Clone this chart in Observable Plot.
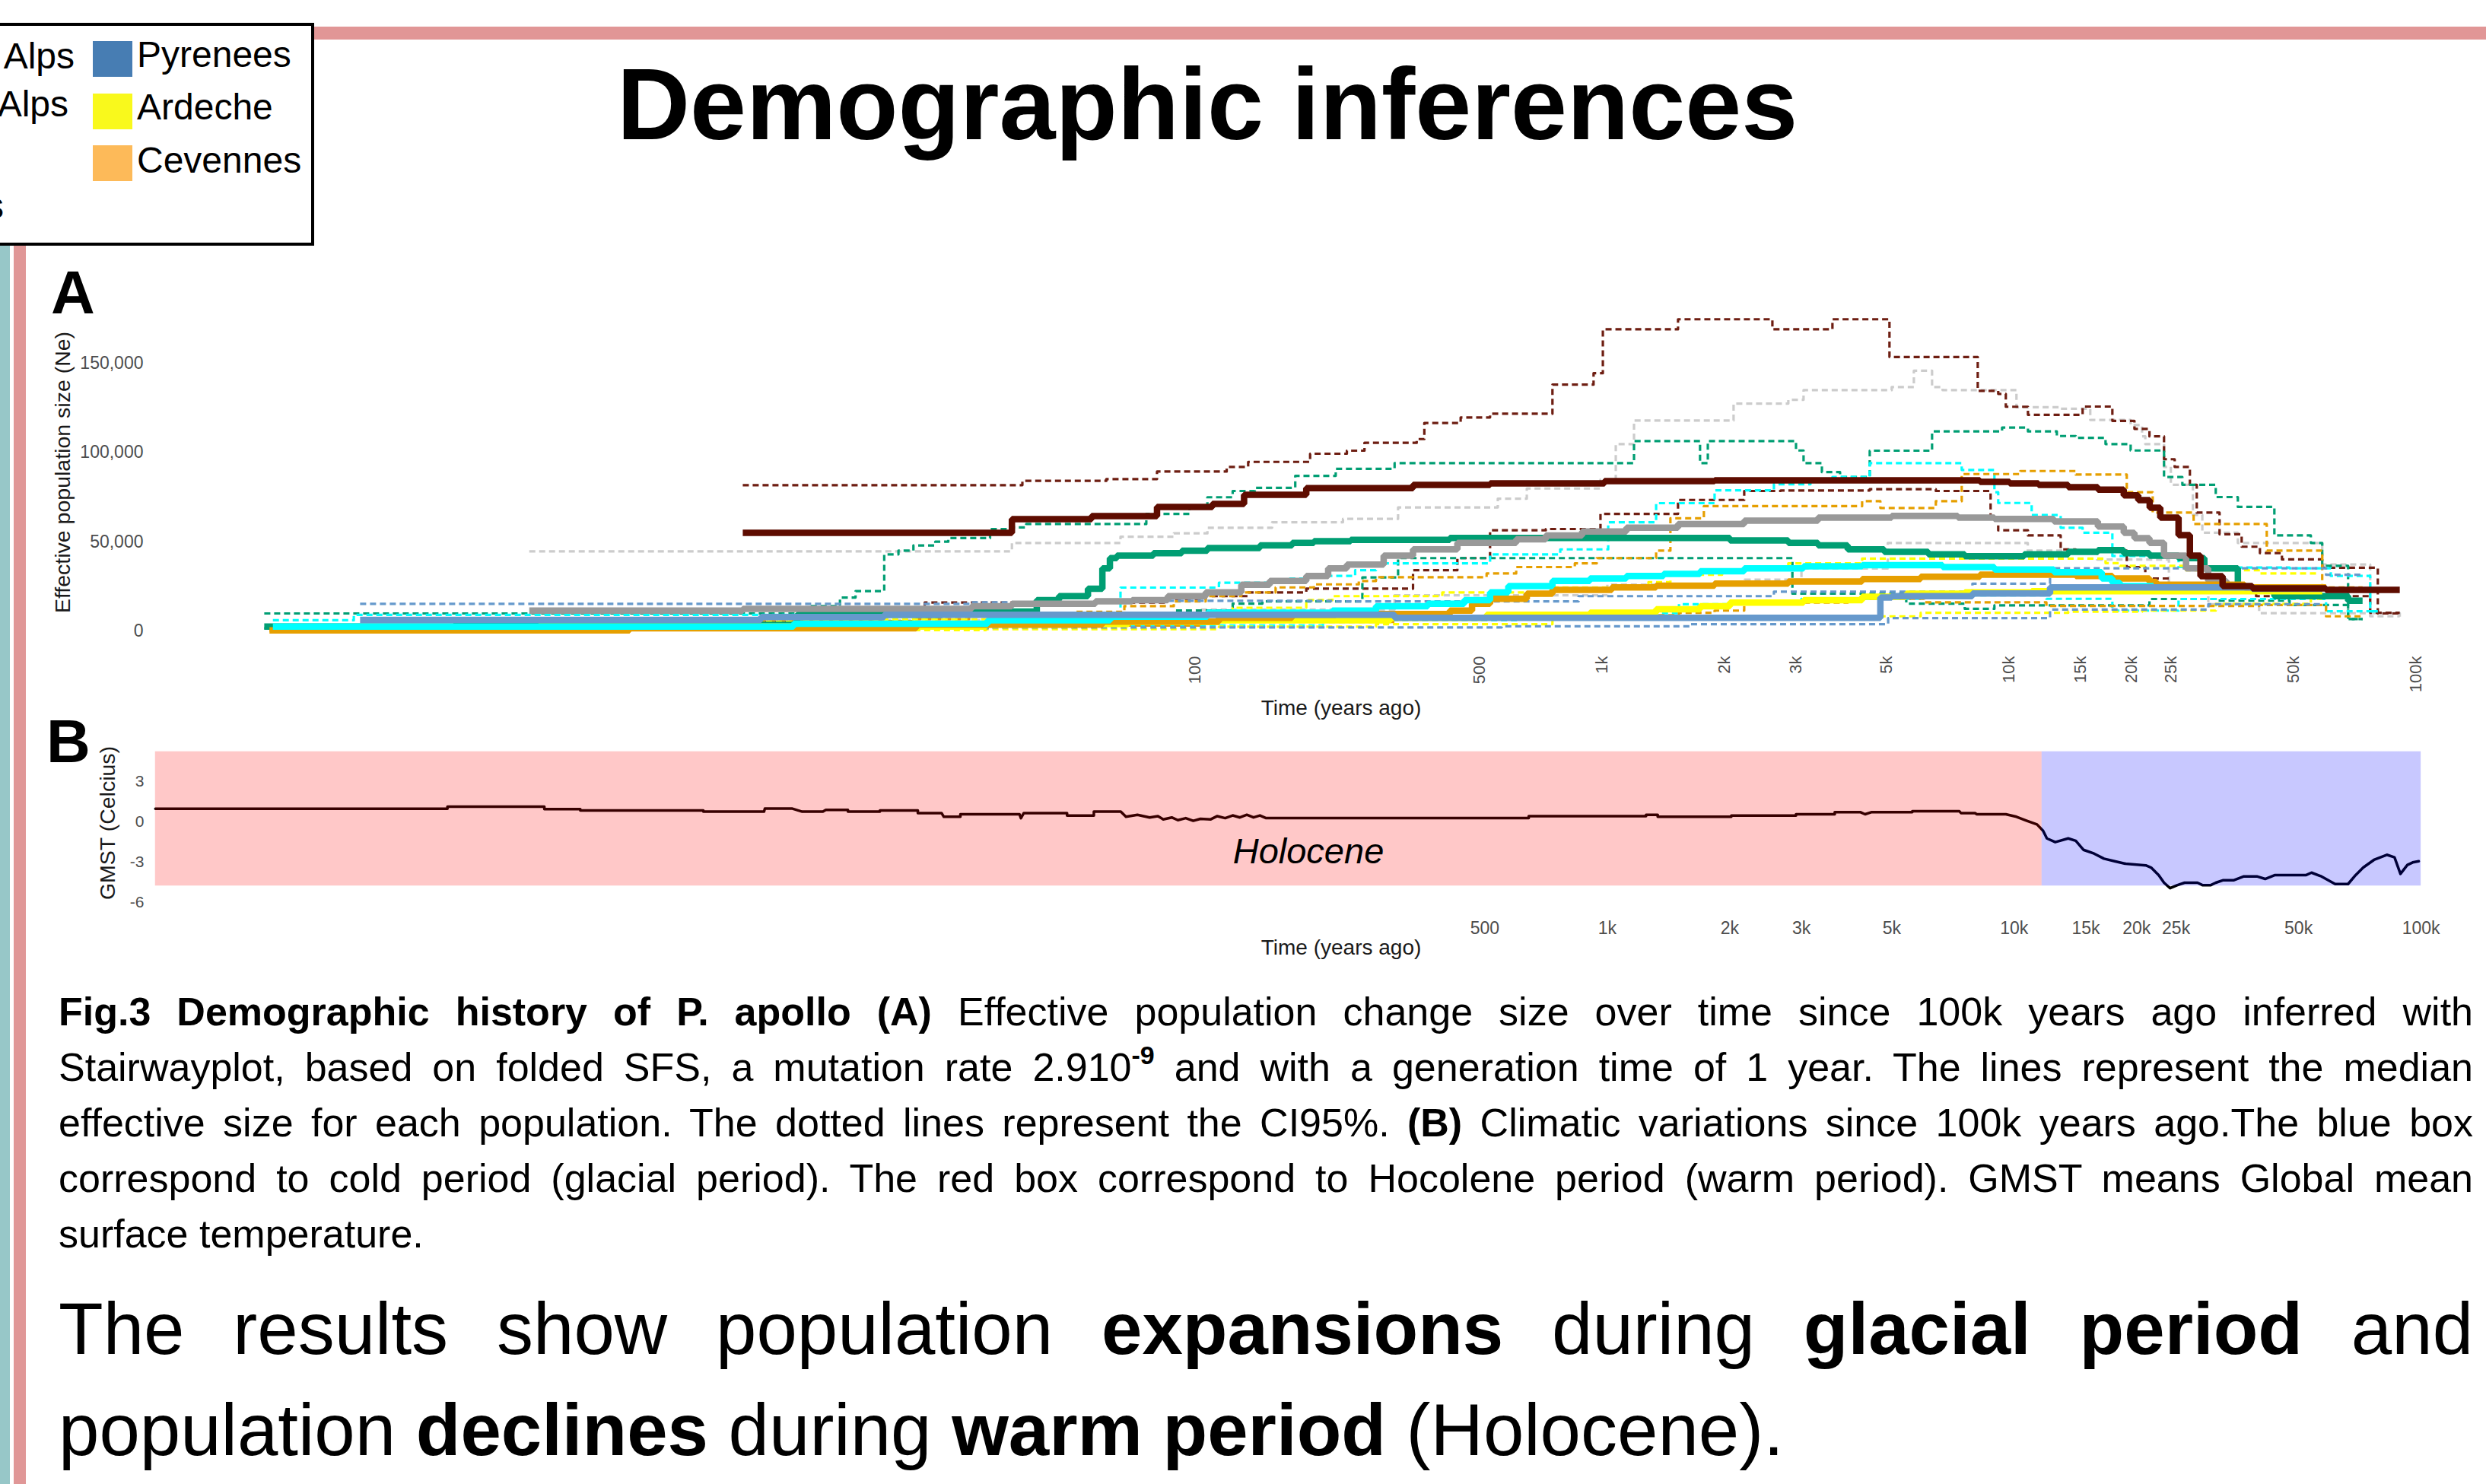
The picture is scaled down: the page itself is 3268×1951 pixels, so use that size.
<!DOCTYPE html>
<html><head><meta charset="utf-8">
<script src="https://cdn.jsdelivr.net/npm/d3@7"></script>
<script src="https://cdn.jsdelivr.net/npm/@observablehq/plot@0.6"></script>
<style>
html,body{margin:0;padding:0;background:#fff;}
#page{position:relative;width:3268px;height:1951px;overflow:hidden;font-family:"Liberation Sans",Arial,sans-serif;color:#000;}
.blk{position:absolute;left:77px;width:3174px;}
.cap{font-size:52px;line-height:73px;}
.res{font-size:96px;line-height:133px;}
.jl{text-align:justify;text-align-last:justify;}
sup{font-size:34px;font-weight:bold;vertical-align:baseline;position:relative;top:-0.62em;line-height:0;}
</style></head>
<body><div id="page"></div>
<script>
// ---------- DATA ----------
// Panel A: stairway plot, [time (years ago), Ne]
const maroonMed = [[7.5,55000],[34.4,62600],[54,64300],[78.2,69500],[107,71200],[128,76300],[182,80000],[333,81800],[515,82700],[984,84000],[1835,84400],[8236,83500],[9745,82700],[11470,81800],[13580,80500],[16060,79200],[18590,76000],[20180,73300],[21530,69000],[22860,63500],[25350,53700],[27030,42200],[28700,30700],[32520,25100],[38480,23900],[58410,23000],[88650,23000]];
const maroonHi = [[7.5,81700],[36.5,84100],[58.7,85100],[78.2,89300],[116,91900],[131,94700],[186,99300],[229,101000],[253,105400],[340,107500],[355,116500],[436,119600],[515,121700],[733,138000],[925,144400],[975,169000],[1492,174600],[2545,169000],[3575,174600],[4937,153500],[8136,134500],[9136,132800],[9537,125600],[10810,121100],[14730,125700],[17430,117700],[19750,113200],[21500,109000],[23350,96200],[24800,91900],[27030,81900],[28100,66300],[31970,54200],[36230,47200],[40180,43600],[45510,40100],[57160,35400],[78300,9800],[88650,9800]];
const maroonLo = [[7.5,5200],[15.4,11000],[16.7,13100],[21,15900],[83,18000],[103,19500],[131,21600],[182,23700],[333,34000],[428,40800],[515,56400],[706,57100],[962,65600],[1492,73400],[2170,78400],[2667,78700],[4415,79400],[6418,78400],[8750,62800],[9136,56400],[10810,53500],[13010,45700],[14170,45000],[18910,35800],[21000,29400],[24000,25000],[30000,22000],[39320,19500],[74990,10200],[88650,10200]];

const greenMed = [[0.5,2400],[1.47,3400],[9.8,3400],[10.2,9100],[23.2,10900],[39.6,17300],[44.9,19500],[52.9,23700],[57.4,35100],[59.9,40800],[62.3,42200],[76.6,43600],[90,45000],[104,46400],[140,47900],[168,49300],[190,50300],[234,51000],[410,52100],[2001,50700],[2785,49300],[3296,47900],[3898,45700],[4791,44300],[6150,42900],[7561,41900],[10580,42900],[13580,44300],[16060,45300],[18590,43600],[21500,42200],[25350,40800],[29330,35100],[35460,24400],[43600,19500],[66180,16900],[71830,16900]];
const greenHi = [[0.5,9800],[11,13900],[13,18700],[14.2,22300],[16.7,42900],[18.1,45000],[19.7,47900],[22.3,50000],[24,52000],[30.4,57100],[33.7,58000],[37.3,59900],[73.6,65600],[94,69200],[104,74900],[120,78400],[136,80200],[171,86900],[215,90800],[300,94000],[1163,106400],[1690,94000],[1766,106400],[2909,101100],[3036,94000],[3368,89000],[3733,86200],[4415,101000],[6283,111800],[9337,113900],[10810,111800],[12730,109200],[14170,108200],[16770,104700],[19330,101100],[23350,86200],[25900,81900],[31290,75000],[35460,69500],[43600,53500],[53600,49300],[57160,36500],[66180,6700],[71830,6700]];
const greenLo = [[0.5,1500],[9.8,4000],[38,6700],[87,11500],[120,15300],[142,16600],[250,30000],[306,40800],[2850,20900],[5429,15300],[7561,12400],[8941,14300],[21500,17900],[31290,17000],[47520,14500],[66180,6700],[71830,6700]];

const grayMed = [[2.24,11400],[7.5,12400],[27.4,13800],[34.4,15200],[55.2,16600],[67.9,17300],[83.1,19500],[103,21600],[126,25900],[148,28000],[182,30800],[206,35100],[229,37200],[282,42200],[333,45700],[428,49300],[597,51400],[706,53500],[867,55700],[1114,57800],[1492,59900],[2170,61800],[3296,63500],[5000,64500],[7272,63500],[8941,62800],[12520,61400],[16060,58500],[18590,55000],[19750,52000],[21500,49300],[23350,42200],[26450,35100],[29970,28000],[33230,24400],[36000,24400]];
const grayHi = [[2.24,44600],[34.4,49300],[63.6,52800],[86,54700],[104,57800],[150,60900],[224,62800],[306,69200],[538,74100],[634,79800],[962,84800],[1049,104700],[1163,117900],[2043,127400],[2785,129500],[3036,134900],[5000,136600],[5668,145800],[6283,136600],[6670,134900],[10130,125300],[13010,124500],[15380,118200],[19330,115300],[20620,109000],[21000,104700],[23350,91900],[24270,81900],[27500,65000],[29000,55000],[35460,49300],[57160,37200],[74990,8200],[88650,8200]];
const grayLo = [[2.24,6000],[30,8000],[100,12000],[300,20000],[1000,26000],[2176,28700],[3000,35000],[4890,49300],[10800,45000],[16000,40000],[24000,25000],[30000,15000],[40000,10000],[88650,8000]];

const cyanMed = [[0.525,2500],[10,4000],[30,6000],[60,8000],[104,10200],[211,11400],[270,13900],[362,15200],[445,17300],[515,21600],[571,25100],[733,28000],[906,29400],[1114,30800],[1375,32000],[1690,33400],[2170,35100],[3036,36200],[4229,36900],[6670,35800],[8941,34400],[12520,32900],[16410,29400],[17430,27000],[18200,25100],[22000,25100]];
const cyanHi = [[0.525,6000],[0.83,9000],[63.6,24300],[111,27000],[164,29400],[182,30800],[240,34000],[270,37900],[515,42900],[766,45700],[1005,60900],[1318,71600],[1835,78800],[2567,82200],[3157,84000],[3575,86200],[4415,94000],[7431,90200],[8941,77700],[9136,71700],[11040,64900],[13010,57800],[14730,55000],[17430,42000],[25350,35800],[31290,35500],[47520,35100],[60000,30800],[75000,11000],[78300,11000]];
const cyanLo = [[0.525,1500],[30,3000],[200,6000],[600,10000],[1500,15000],[3000,18000],[6000,20000],[12000,18000],[17430,11400],[25350,17900],[58410,11000],[78300,11000]];

const orangeMed = [[0.515,300],[3.95,1500],[20,3500],[57.4,5200],[111,7400],[168,9100],[215,9500],[410,11400],[465,15200],[515,18000],[634,20900],[733,23000],[1026,24400],[1318,25400],[1835,26500],[2785,27700],[4229,29100],[5891,30400],[8236,31500],[14170,30800],[17430,29400],[21500,27500],[22370,25900],[36850,24400],[58410,24400]];
const orangeHi = [[0.515,3000],[1.53,5200],[2.31,5500],[19.7,6700],[27,8000],[48.7,10700],[65,13900],[86,16600],[103,19500],[126,21600],[153,24400],[190,26100],[245,28000],[270,30100],[505,32200],[597,35800],[832,37900],[942,40800],[1318,45000],[1429,63100],[1727,69900],[4229,72700],[4689,68900],[6418,72700],[7431,87900],[10350,89600],[14170,87600],[18910,77700],[21900,66300],[27610,59900],[41760,45000],[57160,24400],[71830,24400]];
const orangeLo = [[0.515,200],[1.58,1000],[2.31,1500],[20,3000],[100,5000],[300,7000],[597,8800],[1500,10200],[1835,11400],[2170,15200],[2567,15900],[3898,18000],[6000,16000],[12000,14000],[40000,14500],[58410,8200],[71830,8200]];

const yellowMed = [[2.36,2400],[29.7,3500],[48.7,3800],[66.4,5000],[111,6000],[293,7400],[505,9100],[906,10200],[1318,12100],[1690,13900],[2001,15900],[3036,17300],[4229,19200],[5429,20900],[7561,21600],[11040,22300],[57160,22300]];
const yellowHi = [[2.36,5200],[10.2,6500],[30,8000],[66,10000],[120,13000],[182,17300],[211,19500],[393,21600],[733,24400],[1262,27300],[1429,31500],[1915,34400],[2785,37900],[4229,40500],[16770,38000],[18200,36500],[26450,34000],[40180,32200],[56000,32200]];
const yellowLo = [[2.36,500],[29.7,1000],[111,2400],[270,3800],[733,6700],[2567,8200],[5891,10200],[13580,10800],[20620,11400],[31290,15200],[53600,18000],[57160,18000]];

const blueMed = [[0.86,6200],[8.31,7800],[16.7,9100],[300,7400],[4689,18700],[5000,19500],[7894,21000],[12250,24400],[38480,23700],[57160,23700]];
const blueHi = [[0.86,15200],[27.4,16000],[57.4,16900],[211,16600],[850,19500],[2567,22000],[7894,26500],[12250,35100],[58410,31500],[71830,31500]];
const blueLo = [[0.86,1500],[30,2000],[550,2600],[1600,3800],[4900,7200],[12250,12000],[30000,15000],[57160,15000]];

// Panel B: GMST, [time (years ago), degrees C]
const gmst = [[0.27,0.95],[1.41,0.95],[1.41,1.10],[2.44,1.10],[2.44,0.92],[2.99,0.92],[2.99,0.82],[6.0,0.82],[6.0,0.73],[8.46,0.73],[8.5,0.97],[9.9,0.97],[10.5,0.73],[11.8,0.73],[12.0,0.86],[13.6,0.86],[13.6,0.73],[16.3,0.73],[16.3,0.82],[20.2,0.82],[20.2,0.63],[23.1,0.63],[23.4,0.35],[25.7,0.35],[25.7,0.54],[35.9,0.54],[36.2,0.25],[36.8,0.63],[47,0.63],[47,0.44],[54.7,0.44],[54.7,0.73],[63.7,0.73],[65.6,0.35],[70,0.5],[75,0.3],[78.6,0.4],[81,0.16],[85,0.3],[88,0.1],[92,0.25],[96,0.05],[100,0.2],[106,0.16],[110,0.4],[115,0.25],[120,0.45],[125,0.3],[130,0.5],[135,0.3],[140,0.45],[145,0.25],[148,0.25],[641,0.25],[641,0.39],[1245,0.39],[1245,0.50],[1330,0.50],[1330,0.35],[2017,0.35],[2017,0.44],[2909,0.44],[2909,0.54],[3622,0.54],[3622,0.69],[4194,0.69],[4300,0.54],[4452,0.69],[5618,0.69],[5618,0.76],[7334,0.76],[7400,0.63],[8000,0.63],[8097,0.54],[9537,0.54],[10130,0.35],[10713,0.07],[11379,-0.22],[11777,-0.69],[12034,-1.26],[12616,-1.54],[13575,-1.26],[14170,-1.44],[14795,-2.11],[15716,-2.39],[16620,-2.77],[17650,-2.96],[18746,-3.14],[21060,-3.27],[21700,-3.43],[22650,-3.99],[23350,-4.56],[24170,-4.97],[25120,-4.75],[26230,-4.56],[28220,-4.56],[29080,-4.75],[30360,-4.75],[31290,-4.56],[32660,-4.37],[34690,-4.37],[36690,-4.09],[39480,-4.09],[41380,-4.28],[43770,-3.99],[52220,-3.99],[53800,-3.81],[56900,-4.09],[61500,-4.66],[66150,-4.66],[69070,-3.99],[72100,-3.43],[76600,-2.86],[82400,-2.48],[86050,-2.67],[89000,-3.90],[92550,-3.24],[95370,-3.05],[98700,-2.96]];
const holocene = {start: 0.27, end: 11700, lo: -4.8, hi: 5.2};
const glacial = {start: 11700, end: 100000, lo: -4.8, hi: 5.2};

// Ticks
const xTicksA = [100,500,1000,2000,3000,5000,10000,15000,20000,25000,50000,100000];
const xTickLabelsA = ["100","500","1k","2k","3k","5k","10k","15k","20k","25k","50k","100k"];
const xTicksB = [500,1000,2000,3000,5000,10000,15000,20000,25000,50000,100000];
const xTickLabelsB = ["500","1k","2k","3k","5k","10k","15k","20k","25k","50k","100k"];
const yTicksA = [0,50000,100000,150000];
const yTickLabelsA = ["0","50,000","100,000","150,000"];
const yTicksB = [-6,-3,0,3];
const yTickLabelsB = ["-6","-3","0","3"];

// Legend (visible part)
const legendNames = ["Pyrenees","Ardeche","Cevennes"];
const legendCutNames = ["Alps","Alps","s"];

// ---------- STYLES ----------
const FONT = "Liberation Sans, Arial, sans-serif";
const C = {maroon:"#5E0C00", maroonCI:"#6E1E12", green:"#009E73", gray:"#999999", grayCI:"#CCCCCC",
  cyan:"#00FFFF", orange:"#E69F00", yellow:"#FFFF00", blue:"#6699CC"};
const legendColors = ["#477DB3","#F9F91C","#FDBA59"];
const TICK = "#4d4d4d";
const xDomain = [0.26, 108000];

const ci = (data, color) => Plot.line(data, {x: d => d[0], y: d => d[1], curve: "step-after", stroke: color, strokeWidth: 3.2, strokeDasharray: "8,5", strokeLinecap: "butt"});
const med = (data, color) => Plot.line(data, {x: d => d[0], y: d => d[1], curve: "step-after", stroke: color, strokeWidth: 8.5, strokeLinecap: "butt", strokeLinejoin: "miter"});

const page = document.getElementById("page");

// ---------- PANEL A ----------
const plotA = Plot.plot({
  width: 3268, height: 640,
  marginLeft: 195, marginRight: 68, marginTop: 0, marginBottom: 108,
  style: {background: "transparent", fontFamily: FONT, overflow: "visible"},
  x: {type: "log", domain: xDomain, axis: null},
  y: {domain: [0, 150000], range: [499, 147], axis: null},
  marks: [
    ci(grayLo, C.grayCI), ci(grayHi, C.grayCI),
    ci(maroonLo, C.maroonCI), ci(maroonHi, C.maroonCI),
    ci(greenLo, C.green), ci(greenHi, C.green),
    ci(cyanLo, C.cyan), ci(cyanHi, C.cyan),
    ci(orangeLo, C.orange), ci(orangeHi, C.orange),
    ci(yellowLo, C.yellow), ci(yellowHi, C.yellow),
    ci(blueLo, C.blue), ci(blueHi, C.blue),
    med(greenMed, C.green), med(grayMed, C.gray), med(yellowMed, C.yellow),
    med(orangeMed, C.orange), med(cyanMed, C.cyan), med(blueMed, C.blue), med(maroonMed, C.maroon),
    Plot.text(yTicksA, {y: d => d, text: (d, i) => yTickLabelsA[i], frameAnchor: "left", textAnchor: "end", dx: -7, fontSize: 23, fill: TICK}),
    Plot.text(xTicksA, {x: d => d, text: (d, i) => xTickLabelsA[i], frameAnchor: "bottom", rotate: -90, textAnchor: "end", fontSize: 22, fill: TICK})
  ]
});
plotA.style.position = "absolute"; plotA.style.left = "0px"; plotA.style.top = "330px";
page.appendChild(plotA);

// ---------- PANEL B ----------
const plotB = Plot.plot({
  width: 3268, height: 300,
  marginLeft: 195, marginRight: 68, marginTop: 0, marginBottom: 33,
  style: {background: "transparent", fontFamily: FONT, overflow: "visible"},
  x: {type: "log", domain: xDomain, axis: null},
  y: {domain: [-6, 3], range: [225.4, 66.55], axis: null},
  marks: [
    Plot.line(gmst, {x: d => d[0], y: d => d[1], stroke: "#000", strokeWidth: 3.5}),
    Plot.rect([holocene], {x1: "start", x2: "end", y1: "lo", y2: "hi", fill: "#ff0000", fillOpacity: 0.215}),
    Plot.rect([glacial], {x1: "start", x2: "end", y1: "lo", y2: "hi", fill: "#0000ff", fillOpacity: 0.215}),
    Plot.text(yTicksB, {y: d => d, text: (d, i) => yTickLabelsB[i], frameAnchor: "left", textAnchor: "end", dx: -6, fontSize: 21, fill: TICK}),
    Plot.text(xTicksB, {x: d => d, text: (d, i) => xTickLabelsB[i], frameAnchor: "bottom", lineAnchor: "bottom", fontSize: 23, fill: TICK})
  ]
});
plotB.style.position = "absolute"; plotB.style.left = "0px"; plotB.style.top = "960px";
page.appendChild(plotB);

// ---------- OVERLAY (decor, titles, legend) ----------
const ov = d3.select(page).append("svg")
  .attr("width", 3268).attr("height", 1951)
  .style("position", "absolute").style("left", "0px").style("top", "0px")
  .style("pointer-events", "none").attr("font-family", FONT);

ov.append("rect").attr("x", 0).attr("y", 323).attr("width", 13).attr("height", 1628).attr("fill", "#97C7C8");
ov.append("rect").attr("x", 18).attr("y", 323).attr("width", 16).attr("height", 1628).attr("fill", "#E09797");
ov.append("rect").attr("x", 413).attr("y", 35).attr("width", 2855).attr("height", 17).attr("fill", "#E19696");

// legend box
ov.append("rect").attr("x", -20).attr("y", 32).attr("width", 431).attr("height", 289)
  .attr("fill", "#fff").attr("stroke", "#000").attr("stroke-width", 4);
const swY = [54, 123, 191], txY = [88, 157, 227];
legendNames.forEach((n, i) => {
  ov.append("rect").attr("x", 122).attr("y", swY[i]).attr("width", 52).attr("height", 47).attr("fill", legendColors[i]);
  ov.append("text").attr("x", 180).attr("y", txY[i]).attr("font-size", 48).text(n);
});
const cutX = [98, 90, 5], cutY = [90, 153, 287];
legendCutNames.forEach((n, i) => {
  ov.append("text").attr("x", cutX[i]).attr("y", cutY[i]).attr("font-size", 48).attr("text-anchor", "end").text(n);
});

// title & panel letters
ov.append("text").attr("x", 811).attr("y", 183).attr("font-size", 133).attr("font-weight", "bold").text("Demographic inferences");
ov.append("text").attr("x", 67).attr("y", 412).attr("font-size", 80).attr("font-weight", "bold").text("A");
ov.append("text").attr("x", 61).attr("y", 1002).attr("font-size", 80).attr("font-weight", "bold").text("B");

// axis titles
ov.append("text").attr("transform", "translate(92,621) rotate(-90)").attr("text-anchor", "middle").attr("font-size", 28.5).attr("fill", "#1a1a1a").text("Effective population size (Ne)");
ov.append("text").attr("transform", "translate(151,1082) rotate(-90)").attr("text-anchor", "middle").attr("font-size", 28.5).attr("fill", "#1a1a1a").text("GMST (Celcius)");
ov.append("text").attr("x", 1763).attr("y", 940).attr("text-anchor", "middle").attr("font-size", 28).attr("fill", "#1a1a1a").text("Time (years ago)");
ov.append("text").attr("x", 1763).attr("y", 1255).attr("text-anchor", "middle").attr("font-size", 28).attr("fill", "#1a1a1a").text("Time (years ago)");
ov.append("text").attr("x", 1720).attr("y", 1135).attr("text-anchor", "middle").attr("font-size", 47).attr("font-style", "italic").text("Holocene");

// ---------- CAPTION ----------
const cap = document.createElement("div");
cap.className = "blk cap"; cap.style.top = "1293.5px";
cap.innerHTML =
  '<div class="jl"><b>Fig.3 Demographic history of P. apollo (A)</b> Effective population change size over time since 100k years ago inferred with</div>' +
  '<div class="jl">Stairwayplot, based on folded SFS, a mutation rate 2.910<sup>-9</sup> and with a generation time of 1 year. The lines represent the median</div>' +
  '<div class="jl">effective size for each population. The dotted lines represent the CI95%. <b>(B)</b> Climatic variations since 100k years ago.The blue box</div>' +
  '<div class="jl">correspond to cold period (glacial period). The red box correspond to Hocolene period (warm period). GMST means Global mean</div>' +
  '<div>surface temperature.</div>';
page.appendChild(cap);

const res = document.createElement("div");
res.className = "blk res"; res.style.top = "1680px";
res.innerHTML =
  '<div class="jl">The results show population <b>expansions</b> during <b>glacial period</b> and</div>' +
  '<div>population <b>declines</b> during <b>warm period</b> (Holocene).</div>';
page.appendChild(res);
</script>
</body></html>
